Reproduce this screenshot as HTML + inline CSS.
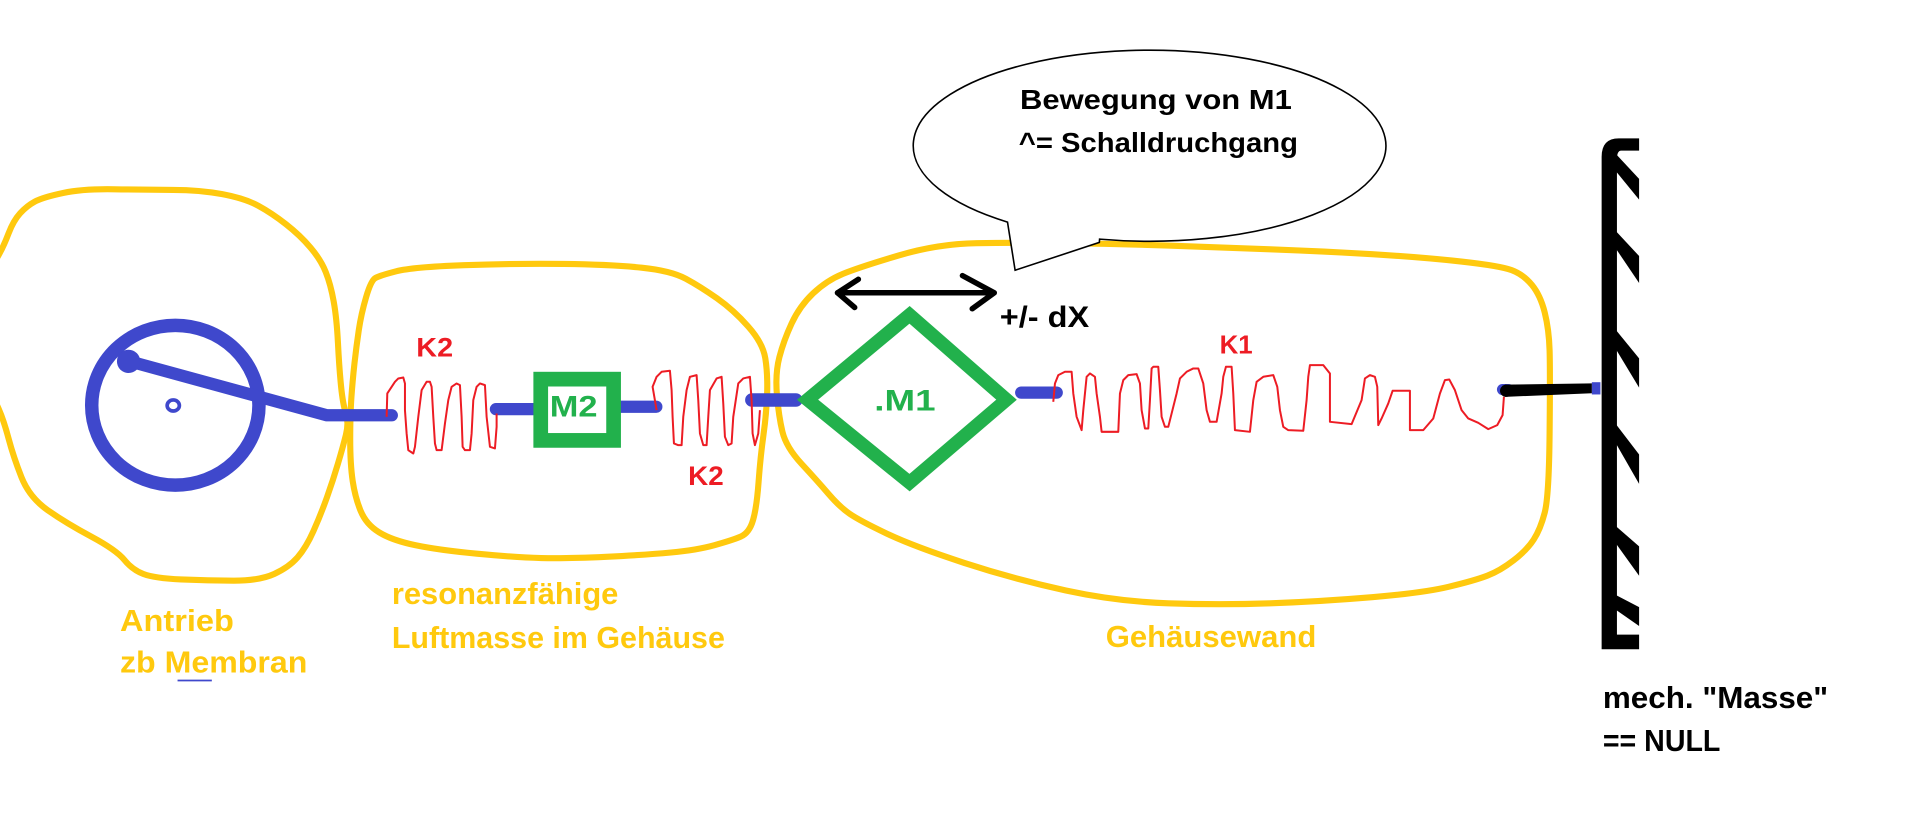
<!DOCTYPE html>
<html>
<head>
<meta charset="utf-8">
<style>
html,body{margin:0;padding:0;background:#fff;}
svg{display:block;}
text{font-family:"Liberation Sans",Arial,sans-serif;font-weight:bold;}
</style>
</head>
<body>
<svg width="1920" height="822" viewBox="0 0 1568 671" preserveAspectRatio="none" xmlns="http://www.w3.org/2000/svg">
<rect width="1568" height="671" fill="#fff"/>

<!-- yellow blobs -->
<g fill="none" stroke="#FFC90E" stroke-width="5" stroke-linejoin="round" stroke-linecap="round">
  <path d="M -5,215 L -1,208 Q 3,201 7,190.5 Q 11,180 16.5,174 Q 22,168 28.5,164.5 Q 35,161 51.5,157.5 Q 68,154 94,154.5 Q 120,155 141.5,155 Q 163,155 181.5,158.5 Q 200,162 211,168 Q 222,174 233.5,183 Q 245,192 253.5,202 Q 262,212 266,222 Q 270,232 272.5,246 Q 275,260 276,280 Q 277,300 278.5,315 Q 280,330 282.5,337.5 Q 285,345 282.5,355 Q 280,365 276,378.5 Q 272,392 267,406 Q 262,420 256,433.5 Q 250,447 243,455 Q 236,463 224,468.5 Q 212,474 191,474 Q 170,474 148,473 Q 126,472 117,468.5 Q 108,465 101.5,457 Q 95,449 74.5,438 Q 54,427 39,416.5 Q 24,406 17.5,389.5 Q 11,373 7,358 Q 3,343 -1,334 L -5,325"/>
  <path d="M 306.5,227 Q 310,225 323.5,221.5 Q 337,218 379,216.5 Q 421,215 460.5,215.5 Q 500,216 524,218.5 Q 548,221 560,227.5 Q 572,234 585.5,243.5 Q 599,253 611,266.5 Q 623,280 625,292.5 Q 627,305 626.5,321 Q 626,337 623.5,355 Q 621,373 619.5,393.5 Q 618,414 615,424.5 Q 612,435 605,438 Q 598,441 583.5,445 Q 569,449 548,451 Q 527,453 495,454.5 Q 463,456 442,455.5 Q 421,455 389.5,452 Q 358,449 339,445 Q 320,441 309.5,434.5 Q 299,428 294.5,417 Q 290,406 288,392.5 Q 286,379 286,358.5 Q 286,338 287,324 Q 288,310 289.5,296.5 Q 291,283 293,269.5 Q 295,256 299,242.5 Q 303,229 306.5,227 Z"/>
  <path d="M 664,239.5 Q 675,229 688.5,223.5 Q 702,218 734,208.5 Q 766,199 797.5,198.5 Q 829,198 870.5,198.5 Q 912,199 954,200.5 Q 996,202 1037.5,203.5 Q 1079,205 1120.5,207.5 Q 1162,210 1193.5,213.5 Q 1225,217 1234.5,220.5 Q 1244,224 1251,232.5 Q 1258,241 1261.5,255 Q 1265,269 1265.5,286 Q 1266,303 1265.5,354 Q 1265,405 1261.5,418.5 Q 1258,432 1252.5,440.5 Q 1247,449 1236,457.5 Q 1225,466 1214.5,470 Q 1204,474 1183,479 Q 1162,484 1120.5,487.5 Q 1079,491 1037.5,492.5 Q 996,494 954,492.5 Q 912,491 870.5,482 Q 829,473 787.5,459.5 Q 746,446 724,435.5 Q 702,425 694,419.5 Q 686,414 676.5,403 Q 667,392 654.5,378.5 Q 642,365 639,352.5 Q 636,340 634.5,322.5 Q 633,305 636.5,291.5 Q 640,278 646.5,264 Q 653,250 664,239.5 Z"/>
</g>

<!-- speech bubble -->
<path d="M 898 195.2 A 193 78 0 1 0 822.8 181.3 L 829 220.6 L 897.8 197.9 Z" fill="#fff" stroke="#000" stroke-width="1.3"/>

<!-- blue drive -->
<g stroke="#3F48CC" fill="none" stroke-linecap="round" stroke-linejoin="round">
  <ellipse cx="143.2" cy="330.8" rx="68.3" ry="65.2" stroke-width="11"/>
  <ellipse cx="141.5" cy="331" rx="5" ry="4.5" stroke-width="3"/>
  <polyline points="106,295 267,339 320,339" stroke-width="10"/>
  <line x1="405" y1="334" x2="436" y2="334" stroke-width="10"/>
  <line x1="507" y1="332" x2="536" y2="332" stroke-width="10"/>
  <line x1="614" y1="326.5" x2="650" y2="326.5" stroke-width="11"/>
  <line x1="834" y1="320.5" x2="863" y2="320.5" stroke-width="10"/>
  <line x1="1227" y1="318" x2="1232" y2="318" stroke-width="9"/>
  <line x1="1300" y1="317" x2="1307" y2="317" stroke-width="10" stroke-linecap="butt"/>
  <line x1="145" y1="555.5" x2="173" y2="555.5" stroke-width="1.5" stroke-linecap="butt"/>
</g>
<circle cx="105" cy="295" r="9.5" fill="#3F48CC"/>

<!-- black bar to wall -->
<polygon points="1229,314 1300,313 1300,321 1229,324" fill="#000"/>
<circle cx="1230" cy="319" r="5" fill="#000"/>

<!-- springs -->
<g fill="none" stroke="#ED1C24" stroke-width="6" stroke-linejoin="round">
  <g transform="translate(310.3,285.8) scale(0.2722)">
    <polyline points="20,200 22,130 45,95 55,85 70,82 75,100 75,180 80,250 85,300 100,310 105,290 115,200 125,120 140,95 150,95 155,110 160,200 165,280 170,300 185,300 195,220 205,150 215,110 230,100 240,105 245,200 248,290 255,300 270,300 275,250 280,150 290,110 300,100 315,105 320,200 330,290 345,295 350,230 350,190"/>
    <polyline points="830,180 818,110 830,80 845,65 870,62 875,120 878,200 882,280 895,285 905,285 910,200 920,120 930,80 950,75 955,150 960,250 970,285 980,285 985,200 990,120 1010,85 1025,80 1030,160 1035,260 1045,285 1055,280 1060,200 1075,100 1090,85 1110,80 1115,150 1118,250 1125,285 1135,250 1140,180"/>
  </g>
  <g transform="translate(849.3,285.8) scale(0.2722)">
    <polyline points="40,155 45,100 55,75 75,65 95,65 100,130 110,200 125,240 130,180 140,80 150,70 165,80 170,130 180,200 185,245 235,245 240,130 250,90 265,75 290,72 300,100 305,180 315,235 325,235 330,150 335,55 340,50 355,50 360,120 365,200 375,230 385,230 410,130 420,85 440,65 460,55 475,55 490,100 500,180 510,215 530,215 545,130 550,80 558,50 575,50 580,130 585,240 630,245 640,150 650,95 670,80 700,75 712,110 720,180 730,230 745,240 790,242 800,150 805,80 810,45 850,45 870,70 870,215 935,222 965,150 975,85 990,75 1005,80 1012,110 1015,225 1025,205 1045,160 1058,122 1110,122 1110,240 1150,240 1180,205 1200,130 1215,90 1228,88 1245,120 1265,180 1285,205 1315,218 1345,237 1372,225 1388,195 1392,140"/>
  </g>
</g>

<!-- green masses -->
<rect x="441.6" y="309.5" width="59.5" height="50" fill="#fff" stroke="#22B14C" stroke-width="12"/>
<polygon points="742.8,257 822,326.3 742.8,394 659.5,326.3" fill="none" stroke="#22B14C" stroke-width="11" stroke-linejoin="miter"/>

<!-- double arrow -->
<g stroke="#000" stroke-width="4.5" fill="none" stroke-linecap="round" stroke-linejoin="round">
  <line x1="684" y1="239" x2="811" y2="239"/>
  <polyline points="701,228 684,239 698,251"/>
  <polyline points="786,225 812,239 794,252"/>
</g>

<!-- wall -->
<g fill="#000">
  <path d="M1308,530 L1308,128 Q1308,113 1322,113 L1338.6,113 L1338.6,123 L1324,123 Q1320.5,123 1320.5,130 L1320.5,518 L1338.6,518 L1338.6,530 Z"/>
  <polygon points="1319,125 1338.6,146 1338.6,163 1319,139"/>
  <polygon points="1319,188 1338.6,209 1338.6,231 1319,202"/>
  <polygon points="1319,268.6 1338.6,292.5 1338.6,316.4 1319,284"/>
  <polygon points="1319,345.4 1338.6,371 1338.6,395 1319,360.8"/>
  <polygon points="1319,429 1338.6,446 1338.6,470 1319,442.7"/>
  <polygon points="1319,485.4 1338.6,495.6 1338.6,511 1319,497.3"/>
</g>

<!-- labels -->
<text x="340" y="291" font-size="22" fill="#ED1C24" textLength="30" lengthAdjust="spacingAndGlyphs">K2</text>
<text x="562" y="396" font-size="22" fill="#ED1C24" textLength="29" lengthAdjust="spacingAndGlyphs">K2</text>
<text x="449" y="340" font-size="24" fill="#22B14C" textLength="39" lengthAdjust="spacingAndGlyphs">M2</text>
<text x="714" y="335" font-size="24" fill="#22B14C" textLength="50" lengthAdjust="spacingAndGlyphs">.M1</text>
<text x="816.5" y="267" font-size="24" fill="#000" textLength="73" lengthAdjust="spacingAndGlyphs">+/- dX</text>
<text x="996" y="288.5" font-size="21" fill="#ED1C24" textLength="27" lengthAdjust="spacingAndGlyphs">K1</text>

<text x="833" y="89" font-size="23" fill="#000" textLength="222" lengthAdjust="spacingAndGlyphs">Bewegung von M1</text>
<text x="832" y="124" font-size="23" fill="#000" textLength="228" lengthAdjust="spacingAndGlyphs">^= Schalldruchgang</text>

<g fill="#FFC90E" font-size="25">
  <text x="98" y="515" textLength="93" lengthAdjust="spacingAndGlyphs">Antrieb</text>
  <text x="98" y="549" textLength="153" lengthAdjust="spacingAndGlyphs">zb Membran</text>
  <text x="320" y="493" textLength="185" lengthAdjust="spacingAndGlyphs">resonanzfähige</text>
  <text x="320" y="529" textLength="272" lengthAdjust="spacingAndGlyphs">Luftmasse im Gehäuse</text>
  <text x="903" y="528" textLength="172" lengthAdjust="spacingAndGlyphs">Gehäusewand</text>
</g>

<text x="1309" y="578" font-size="25" fill="#000" textLength="184" lengthAdjust="spacingAndGlyphs">mech. "Masse"</text>
<text x="1309" y="613" font-size="25" fill="#000" textLength="96" lengthAdjust="spacingAndGlyphs">== NULL</text>
</svg>
</body>
</html>
